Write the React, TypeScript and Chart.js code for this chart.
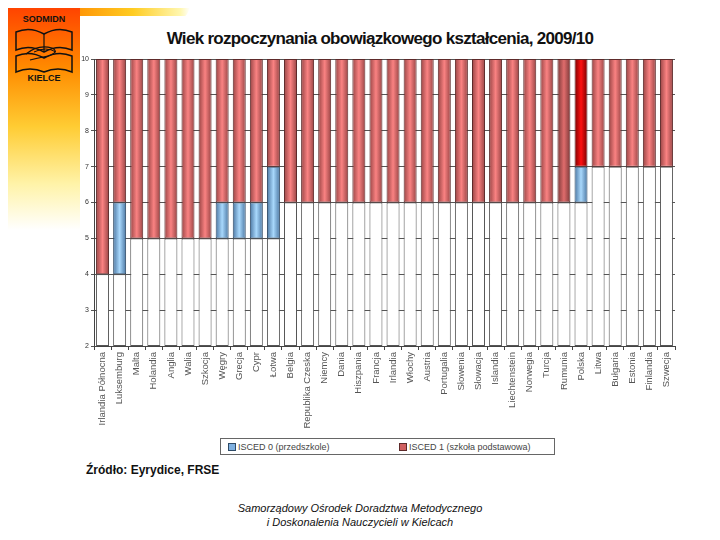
import React, { useEffect, useRef } from "react";
import { Chart, registerables } from "chart.js";

Chart.register(...registerables);

const categories = [
  "Irlandia Północna", "Luksemburg", "Malta", "Holandia", "Anglia", "Walia", "Szkocja",
  "Węgry", "Grecja", "Cypr", "Łotwa", "Belgia", "Republika Czeska", "Niemcy", "Dania",
  "Hiszpania", "Francja", "Irlandia", "Włochy", "Austria", "Portugalia", "Słowenia",
  "Słowacja", "Islandia", "Liechtenstein", "Norwegia", "Turcja", "Rumunia", "Polska",
  "Litwa", "Bułgaria", "Estonia", "Finlandia", "Szwecja",
];
// ISCED 0 (przedszkole) compulsory range, null where none
const isced0Start: (number | null)[] = [
  null, 4, null, null, null, null, null, 5, 5, 5, 5, null, null, null, null, null, null,
  null, null, null, null, null, null, null, null, null, null, null, 6, null, null, null, null, null,
];
const isced0End: (number | null)[] = [
  null, 6, null, null, null, null, null, 6, 6, 6, 7, null, null, null, null, null, null,
  null, null, null, null, null, null, null, null, null, null, null, 7, null, null, null, null, null,
];
// ISCED 1 (szkoła podstawowa) start age
const isced1Start = [
  4, 6, 5, 5, 5, 5, 5, 6, 6, 6, 7, 6, 6, 6, 6, 6, 6, 6, 6, 6, 6, 6, 6, 6, 6, 6, 6, 6, 7,
  7, 7, 7, 7, 7,
];
const axisMin = 2;
const axisMax = 10;
const yTicks = [2, 3, 4, 5, 6, 7, 8, 9, 10];

const BAR_PCT = 0.76;

function gradient(ctx: any, edge: string, mid: string) {
  const chart = ctx.chart;
  const xs = chart.scales && chart.scales.x;
  if (!xs || !chart.chartArea || ctx.dataIndex === undefined) return mid;
  const cx = xs.getPixelForValue(ctx.dataIndex);
  const w = (xs.width / categories.length) * BAR_PCT;
  const g = chart.ctx.createLinearGradient(cx - w / 2, 0, cx + w / 2, 0);
  g.addColorStop(0, edge);
  g.addColorStop(0.5, mid);
  g.addColorStop(1, edge);
  return g;
}

export default function App() {
  const ref = useRef<HTMLCanvasElement | null>(null);
  useEffect(() => {
    if (!ref.current) return;
    const baseData = categories.map((_, i) => {
      const s = isced0Start[i] !== null ? (isced0Start[i] as number) : isced1Start[i];
      return [axisMin, s];
    });
    const blueData = categories.map((_, i) =>
      isced0Start[i] !== null ? [isced0Start[i], isced0End[i]] : null
    );
    const redData = categories.map((_, i) => [isced1Start[i], axisMax]);
    const chart = new Chart(ref.current, {
      type: "bar",
      data: {
        labels: categories,
        datasets: [
          {
            label: "ISCED 0 (przedszkole)",
            data: blueData as any,
            backgroundColor: (c: any) => gradient(c, "#4a76a2", "#a8d8fc"),
            borderColor: "#2e4a66",
            borderWidth: 1,
            borderSkipped: false,
            grouped: false,
            barPercentage: BAR_PCT,
            categoryPercentage: 1,
          } as any,
          {
            label: "ISCED 1 (szkoła podstawowa)",
            data: redData as any,
            backgroundColor: (c: any) => {
              const name = categories[c.dataIndex];
              if (name === "Polska") return gradient(c, "#780000", "#ff1010");
              if (name === "Rumunia") return gradient(c, "#7a3838", "#e06c6c");
              return gradient(c, "#984444", "#fa8282");
            },
            borderColor: "#5e2a2a",
            borderWidth: 1,
            borderSkipped: false,
            grouped: false,
            barPercentage: BAR_PCT,
            categoryPercentage: 1,
          } as any,
          {
            label: "base",
            data: baseData as any,
            backgroundColor: "#ffffff",
            borderColor: "#555555",
            borderWidth: 1,
            borderSkipped: false,
            grouped: false,
            barPercentage: BAR_PCT,
            categoryPercentage: 1,
          } as any,
        ],
      },
      options: {
        animation: false,
        responsive: false,
        maintainAspectRatio: false,
        layout: { padding: { top: 7, right: 5, left: 0, bottom: 0 } },
        plugins: { legend: { display: false }, tooltip: { enabled: false } },
        scales: {
          x: {
            offset: true,
            grid: {
              display: true,
              drawOnChartArea: false,
              offset: true,
              color: "#444",
              tickLength: 4,
            },
            border: { color: "#444" },
            ticks: {
              autoSkip: false,
              maxRotation: 90,
              minRotation: 90,
              color: "#555",
              font: { family: "Liberation Sans", size: 9.5 },
              padding: 2,
            },
            afterFit: (s: any) => {
              s.height = 84;
            },
          },
          y: {
            min: axisMin,
            max: axisMax,
            afterBuildTicks: (s: any) => {
              s.ticks = yTicks.map((v) => ({ value: v }));
            },
            grid: { color: "#555", tickLength: 3 },
            border: { color: "#444" },
            ticks: {
              color: "#333",
              font: { family: "Liberation Sans", size: 7 },
              padding: 2,
            },
            afterFit: (s: any) => {
              s.width = 14;
            },
          },
        },
      },
    });
    return () => chart.destroy();
  }, []);

  return (
    <div style={{ position: "relative", width: 720, height: 540, margin: -8, background: "#fff", overflow: "hidden" }}>
      <div
        style={{
          position: "absolute", left: 0, top: 0, width: 190, height: 22,
          background: "linear-gradient(to right, #ff2a00 0%, #ff8a00 35%, #ffcc22 70%, #fff7b0 95%, rgba(255,255,255,0) 100%)",
          borderBottomRightRadius: 18,
        }}
      />
      <div
        style={{
          position: "absolute", left: 0, top: 0, width: 80, height: 230,
          background: "linear-gradient(to bottom, #ff3a00 0%, #ff8c00 30%, #ffcc33 55%, #fff3a8 80%, rgba(255,255,255,0) 100%)",
        }}
      />
      <div style={{ position: "absolute", left: 80, top: 16, width: 600, height: 470, background: "#fff" }} />
      <div
        style={{
          position: "absolute", left: 12, top: 14, width: 64, textAlign: "center",
          fontFamily: "Liberation Sans", fontWeight: "bold", fontSize: 9, color: "#111",
        }}
      >
        SODMIDN
      </div>
      <svg style={{ position: "absolute", left: 12, top: 26 }} width={64} height={48}>
        <path d="M4 6 Q18 0 32 8 Q46 0 60 6 L60 24 Q46 18 32 26 Q18 18 4 24 Z" fill="none" stroke="#111" strokeWidth={1.5} />
        <path d="M32 8 L32 26" stroke="#111" strokeWidth={1.2} />
        <path d="M4 30 Q18 24 32 32 Q46 24 60 30 L60 46 Q46 40 32 46 Q18 40 4 46 Z" fill="none" stroke="#111" strokeWidth={1.5} />
        <path d="M14 28 Q26 18 40 22 Q48 26 36 30 Q26 32 18 34" fill="none" stroke="#111" strokeWidth={1.2} />
        <path d="M22 26 Q34 20 44 26" fill="none" stroke="#111" strokeWidth={1} />
      </svg>
      <div
        style={{
          position: "absolute", left: 12, top: 73, width: 64, textAlign: "center",
          fontFamily: "Liberation Sans", fontWeight: "bold", fontSize: 9, color: "#111",
        }}
      >
        KIELCE
      </div>
      <div
        style={{
          position: "absolute", left: 80, top: 29, width: 600, textAlign: "center",
          fontFamily: "Liberation Sans", fontWeight: "bold", fontSize: 17, color: "#111",
          letterSpacing: -0.7,
        }}
      >
        Wiek rozpoczynania obowiązkowego kształcenia, 2009/10
      </div>
      <canvas ref={ref} width={600} height={378} style={{ position: "absolute", left: 80, top: 52, width: 600, height: 378 }} />
      <div
        style={{
          position: "absolute", left: 220, top: 438, width: 335, height: 17, boxSizing: "border-box",
          border: "1px solid #666", fontFamily: "Liberation Sans", fontSize: 9, color: "#444", background: "#fff",
        }}
      >
        <div style={{ position: "absolute", left: 7, top: 3, display: "flex", alignItems: "center" }}>
          <span style={{ display: "inline-block", width: 6, height: 6, background: "#7fb0e0", border: "1px solid #2e4a66", marginRight: 2 }} />
          ISCED 0 (przedszkole)
        </div>
        <div style={{ position: "absolute", left: 178, top: 3, display: "flex", alignItems: "center" }}>
          <span style={{ display: "inline-block", width: 6, height: 6, background: "#d06060", border: "1px solid #5e2a2a", marginRight: 2 }} />
          ISCED 1 (szkoła podstawowa)
        </div>
      </div>
      <div
        style={{
          position: "absolute", left: 86, top: 463, fontFamily: "Liberation Sans", fontWeight: "bold",
          fontSize: 12, color: "#111",
        }}
      >
        Źródło: Eyrydice, FRSE
      </div>
      <div
        style={{
          position: "absolute", left: 0, top: 501, width: 720, textAlign: "center",
          fontFamily: "Liberation Sans", fontStyle: "italic", fontSize: 11, lineHeight: "14px", color: "#111",
        }}
      >
        Samorządowy Ośrodek Doradztwa Metodycznego
        <br />i Doskonalenia Nauczycieli w Kielcach
      </div>
    </div>
  );
}
